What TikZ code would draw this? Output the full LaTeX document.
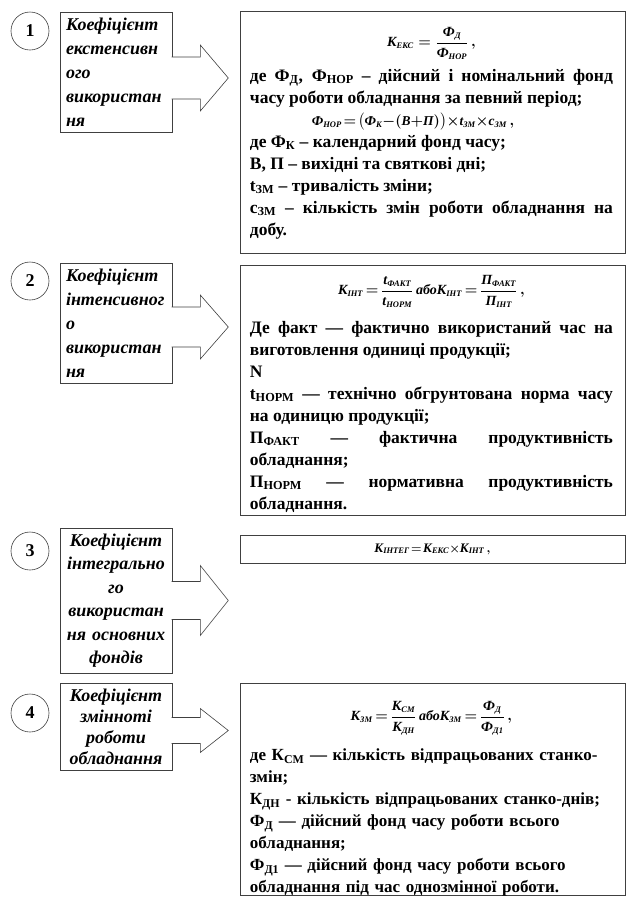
\documentclass[tikz,border=0pt]{standalone}
\usepackage{amsmath}
\usepackage{fontspec}
\setmainfont{Liberation Serif}
\usepackage{tikz}
\usetikzlibrary{calc,positioning}
\newcommand\mv[1]{\text{\bfseries\itshape #1}}
\newcommand\ms[1]{\text{\fontsize{8.5}{9}\selectfont\bfseries\itshape #1}}
\newcommand\lo[1]{\textsubscript{#1}}
\hyphenpenalty=10000
\tolerance=10000

\begin{document}
\begin{tikzpicture}[x=1pt,y=-1pt,
      num/.style={circle,draw=black!75,line width=0.6pt,minimum size=38pt,inner sep=0pt,
        font=\fontsize{18}{18}\selectfont\bfseries},
      lab/.style={draw=black!75,line width=0.6pt,text width=100pt,inner xsep=6pt,inner ysep=0pt,
        font=\fontsize{18}{24}\selectfont\bfseries\itshape},
      frame/.style={draw=black!75,line width=0.6pt,minimum width=385pt,inner sep=0pt},
      txt/.style={text width=363pt,inner sep=0pt,anchor=north west,align=justify,
        font=\fontsize{17.5}{22}\selectfont\bfseries\boldmath},
      fml/.style={font=\fontsize{14}{22}\selectfont\boldmath},
      arr/.style={draw=black!75,line width=0.6pt,fill=white,line join=miter}]
    \useasboundingbox (0,0) rectangle (636,903);
    % numbers
    \node[num] (n1) at (30,31)  {1};
    \node[num] (n2) at (30,281) {2};
    \node[num] (n3) at (30,551) {3};
    \node[num] (n4) at (30,713) {4};
    % names of the coefficients
    \node[lab,align=left,minimum height=120pt]   (lab1) at (116,72)    {Коефіцієнт\\екстенсивн\\ого\\використан\\ня};
    \node[lab,align=left,minimum height=120pt]   (lab2) at (116,323)   {Коефіцієнт\\інтенсивног\\о\\використан\\ня};
    \node[lab,align=center,minimum height=145pt,font=\fontsize{18}{23.5}\selectfont\bfseries\itshape] (lab3) at (116,600.5) {Коефіцієнт\\інтегрально\\го\\використан\\ня основних\\фондів};
    \node[lab,align=center,minimum height=87pt,font=\fontsize{18}{21}\selectfont\bfseries\itshape]  (lab4) at (116,726.5) {Коефіцієнт\\змінноті\\роботи\\обладнання};
    % arrows
    \draw[arr] ($(lab1.east)+(-0.6,-15)$) -- ++(28.6,0) -- ++(0,-12) -- ++(28,33) -- ++(-28,33) -- ++(0,-12) -- ++(-28.6,0);
    \draw[arr] ($(lab2.east)+(-0.6,-16)$) -- ++(28.6,0) -- ++(0,-12) -- ++(28,32) -- ++(-28,32) -- ++(0,-12) -- ++(-28.6,0);
    \draw[arr] ($(lab3.east)+(-0.6,-19)$) -- ++(28.6,0) -- ++(0,-16) -- ++(28,35) -- ++(-28,35) -- ++(0,-16) -- ++(-28.6,0);
    \draw[arr] ($(lab4.east)+(-0.6,-9)$)  -- ++(28.6,0) -- ++(0,-9)  -- ++(28,22) -- ++(-28,22) -- ++(0,-9)  -- ++(-28.6,0);
    % formula boxes
    \node[frame,minimum height=242pt] (f1) at (432.5,132) {};
    \node[frame,minimum height=250pt] (f2) at (432.5,390) {};
    \node[frame,minimum height=28pt]  (f3) at (432.5,549) {};
    \node[frame,minimum height=212pt] (f4) at (432.5,789) {};
    \node[txt] (t1) at ($(f1.north west)+(10,16)$) {%
      \centerline{\fontsize{14}{22}\selectfont$\mv{К}_{\ms{ЕКС}}=\dfrac{\mv{Ф}_{\ms{Д}}}{\mv{Ф}_{\ms{НОР}}}\,,$}
      \vskip 8pt
      де Ф\lo{Д}, Ф\lo{НОР} – дійсний і номінальний фонд\linebreak
      часу роботи обладнання за певний період;\par
      \hbox to\hsize{\hskip 62pt\fontsize{13.5}{22}\selectfont\medmuskip=0mu\thickmuskip=2mu$\mv{Ф}_{\ms{НОР}}=\bigl(\mv{Ф}_{\ms{К}}-(\mv{В}+\mv{П})\bigr)\times\mv{t}_{\ms{ЗМ}}\times\mv{c}_{\ms{ЗМ}}\,,$\hfil}
      де Ф\lo{К} – календарний фонд часу;\par
      В, П – вихідні та святкові дні;\par
      t\lo{ЗМ} – тривалість зміни;\par
      с\lo{ЗМ} – кількість змін роботи обладнання на\linebreak
      добу.};
    \node[txt] (t2) at ($(f2.north west)+(10,10)$) {%
      \centerline{\fontsize{14}{22}\selectfont\medmuskip=1mu\thickmuskip=3mu$\mv{К}_{\ms{ІНТ}}=\dfrac{\mv{t}_{\ms{ФАКТ}}}{\mv{t}_{\ms{НОРМ}}}\,\text{\itshape або}\mv{К}_{\ms{ІНТ}}=\dfrac{\mv{П}_{\ms{ФАКТ}}}{\mv{П}_{\ms{ІНТ}}}\,,$}
      \vskip 12pt
      Де факт — фактично використаний час на\linebreak
      виготовлення одиниці продукції;\par
      N\par
      t\lo{НОРМ} — технічно обгрунтована норма часу\linebreak
      на одиницю продукції;\par
      П\lo{ФАКТ} — фактична продуктивність\linebreak
      обладнання;\par
      П\lo{НОРМ} — нормативна продуктивність\linebreak
      обладнання.};
    \node[fml,font=\fontsize{13}{22}\selectfont\boldmath] (t3) at (f3.center) {\medmuskip=0mu\thickmuskip=2mu$\mv{К}_{\ms{ІНТЕГ}}=\mv{К}_{\ms{ЕКС}}\times\mv{К}_{\ms{ІНТ}}\,,$};
    \node[txt,align=left,font=\fontsize{17}{22}\selectfont\bfseries\boldmath] (t4) at ($(f4.north west)+(10,18)$) {%
      \centerline{\fontsize{14}{22}\selectfont\thickmuskip=3mu$\mv{К}_{\ms{ЗМ}}=\dfrac{\mv{К}_{\ms{СМ}}}{\mv{К}_{\ms{ДН}}}\,\text{\itshape або}\mv{К}_{\ms{ЗМ}}=\dfrac{\mv{Ф}_{\ms{Д}}}{\mv{Ф}_{\ms{Д1}}}\,,$}
      \vskip 12pt
      де К\lo{СМ} — кількість  відпрацьованих станко-\\
      змін;\\
      К\lo{ДН} - кількість  відпрацьованих станко-днів;\\
      Ф\lo{Д} — дійсний фонд часу роботи всього\\
      обладнання;\\
      Ф\lo{Д1} — дійсний фонд часу роботи всього\\
      обладнання під  час однозмінної роботи.};
  \end{tikzpicture}
\end{document}
